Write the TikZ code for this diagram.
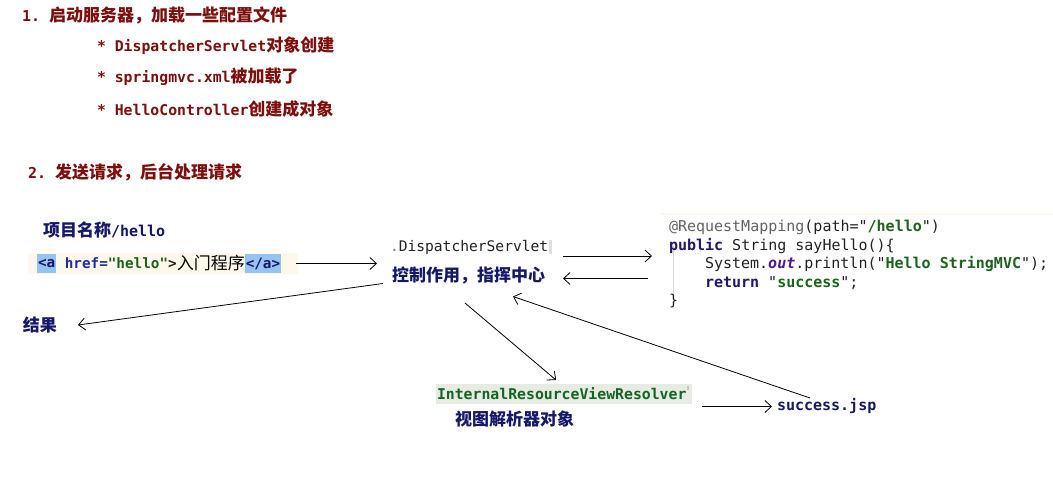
\documentclass[tikz,border=0pt]{standalone}
\usepackage{fontspec}
\usetikzlibrary{arrows.meta}
\newfontfamily\cjkf{Noto Sans CJK SC}
\newfontfamily\bmono{DejaVu Sans Mono}
\newfontfamily\cmono{DejaVu Sans Mono}
\newcommand{\myfs}[1]{\fontsize{#1}{#1}\selectfont}
\definecolor{darkred}{RGB}{125,14,14}
\definecolor{navyc}{RGB}{22,24,105}
\definecolor{annoc}{RGB}{100,100,100}
\definecolor{kwc}{RGB}{35,22,110}
\definecolor{strc}{RGB}{28,100,30}
\definecolor{outc}{RGB}{75,25,150}
\definecolor{codefg}{RGB}{35,35,35}
\definecolor{tagbg}{RGB}{150,196,240}
\definecolor{creambg}{RGB}{253,248,233}
\definecolor{hrefc}{RGB}{35,45,160}
\definecolor{resbg}{RGB}{230,235,228}
\definecolor{resfg}{RGB}{20,100,35}
\tikzset{
  every node/.style={inner sep=0pt, outer sep=0pt, anchor=west},
  head/.style={text=darkred, font=\myfs{17}},
  bullet/.style={text=darkred, font=\myfs{14.8}},
  lab/.style={text=navyc, font=\cjkf\bfseries\myfs{17}},
  codeln/.style={anchor=base west, text=codefg, font=\cmono\myfs{15}},
  tagbox/.style={fill=tagbg, text=navyc, font=\cmono\bfseries\myfs{14.3}, minimum height=19pt, inner xsep=1pt},
  arr/.style={-{Straight Barb[length=6.5pt,width=12pt]}, line width=0.8pt, black},
}
\begin{document}
\begin{tikzpicture}[x=1pt,y=-1pt]
\useasboundingbox[fill=white] (0,0) rectangle (1053,490);

% section 1
\node[head] (h1) at (22,15) {{\bmono\bfseries\myfs{15}1.~}{\cjkf\bfseries 启动服务器，加载一些配置文件}};
\node[bullet] (b1) at (97,46) {{\bmono\bfseries * DispatcherServlet}{\cjkf\bfseries\myfs{17}对象创建}};
\node[bullet] (b2) at (97,77) {{\bmono\bfseries * springmvc.xml}{\cjkf\bfseries\myfs{17}被加载了}};
\node[bullet] (b3) at (97,109) {{\bmono\bfseries * HelloController}{\cjkf\bfseries\myfs{17}创建成对象}};

% section 2
\node[head] (h2) at (28,172) {{\bmono\bfseries\myfs{15}2.~}{\cjkf\bfseries 发送请求，后台处理请求}};
\node[lab] (proj) at (43,230) {项目名称{\bmono\bfseries\myfs{15}/hello}};

% anchor line
\fill[creambg] (28,253) rectangle (298,274);
\node[tagbox] (a1) at (37,263.5) {<a};
\node[anchor=west, text=hrefc, font=\cmono\bfseries\myfs{14.3}, minimum height=19pt] (a2) at (a1.east) {\ href={\color{strc}"hello"}{\color{codefg}>}};
\node[anchor=west, font=\cjkf\myfs{17}, text=black, minimum height=19pt] (a3) at (a2.east) {入门程序};
\node[tagbox, anchor=west] (a4) at (a3.east) {</a>};

% dispatcher
\node[text=codefg, font=\cmono\myfs{14.6}] (ds) at (390,247) {{\color{gray}.}DispatcherServlet};
\fill[gray!25] (ds.east) ++(1,-7) rectangle ++(3,14);
\node[lab] (ctrl) at (392,275) {控制作用，指挥中心};

% code block
\draw[creambg!80!orange!30, line width=2.5pt] (661,214) -- (1053,214);
\draw[gray!30, line width=0.8pt] (673,246) -- (673,297);
\node[codeln] (c1) at (669,231.5) {{\color{annoc}@RequestMapping}(path="{\bfseries\color{strc}/hello}")};
\node[codeln] (c2) at (669,250) {{\bfseries\color{kwc}public} String sayHello()\{};
\node[codeln] (c3) at (705,268.5) {System.{\bfseries\itshape\color{outc}out}.println("{\bfseries\color{strc}Hello StringMVC}");};
\node[codeln] (c4) at (705,287) {{\bfseries\color{kwc}return} "{\bfseries\color{strc}success}";};
\node[codeln] (c5) at (669,305.5) {\}};

% result
\node[lab] (res) at (23,325) {结果};

% view resolver
\node[fill=resbg, text=resfg, font=\cmono\bfseries\myfs{14.8}, minimum height=20pt, inner xsep=1pt, text width=254pt] (ivr) at (436,394) {InternalResourceViewResolver};
\fill[gray!45] (687,386) rectangle (689,390);
\node[lab] (vr) at (455,419) {视图解析器对象};
\node[text=navyc, font=\bmono\bfseries\myfs{15}] (jsp) at (777,406) {success.jsp};

% connector endpoints
\coordinate (p1s) at (296,263.5);
\coordinate (p1e) at (377,263.5);
\coordinate (p2s) at (563,256);
\coordinate (p2e) at (652,256);
\coordinate (p3s) at (648,278.5);
\coordinate (p3e) at (563,278.5);
\coordinate (p4s) at (383,283.5);
\coordinate (p4e) at (78,325);
\coordinate (p5s) at (465,303);
\coordinate (p5e) at (556,380);
\coordinate (p6s) at (810,398);
\coordinate (p6e) at (513,296.5);
\coordinate (p7s) at (702,406.5);
\coordinate (p7e) at (772,406.5);

\draw[arr] (p1s) -- (p1e);
\draw[arr] (p2s) -- (p2e);
\draw[arr] (p3s) -- (p3e);
\draw[arr] (p4s) -- (p4e);
\draw[arr] (p5s) -- (p5e);
\draw[arr] (p6s) -- (p6e);
\draw[arr] (p7s) -- (p7e);
\end{tikzpicture}
\end{document}
